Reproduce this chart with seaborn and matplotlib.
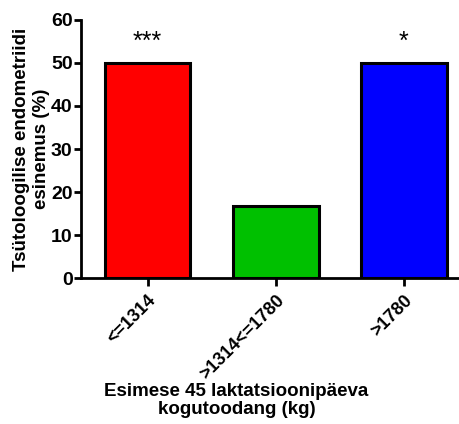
import matplotlib
matplotlib.use("Agg")
import matplotlib.pyplot as plt
import seaborn as sns
import pandas as pd

categories = ["<=1314", ">1314<=1780", ">1780"]
values = [50, 16.7, 50]
colors = ["#ff0000", "#00c000", "#0000ff"]
stars = ["***", "", "*"]
yticks = [0, 10, 20, 30, 40, 50, 60]

sns.set_style("white")
plt.rcParams['font.family'] = ['Liberation Sans', 'DejaVu Sans']
plt.rcParams['font.weight'] = 'bold'
plt.rcParams['text.color'] = 'black'
plt.rcParams['axes.labelcolor'] = 'black'
plt.rcParams['xtick.color'] = 'black'
plt.rcParams['ytick.color'] = 'black'

df = pd.DataFrame({"cat": categories, "val": values})

fig = plt.figure(figsize=(4.6, 4.24), dpi=100)
ax = fig.add_axes([0.176, 0.344, 0.824, 0.609])
sns.barplot(data=df, x="cat", y="val", hue="cat", palette=colors, legend=False,
            width=0.67, edgecolor="black", linewidth=2.2, saturation=1, ax=ax)

for i, s in enumerate(stars):
    if s:
        ax.text(i, values[i] + 2.0, s, ha="center", va="bottom", fontsize=18, fontweight="normal")

ax.set_xlim(-0.52, 2.44)
ax.set_ylim(0, 60)
ax.set_yticks(yticks)
ax.set_xticks(range(len(categories)))
ax.set_xticklabels(categories, rotation=45, ha="right", rotation_mode="anchor", fontsize=13, fontweight="bold")
ax.tick_params(axis="y", labelsize=14, width=2, length=5, left=True, pad=1)
ax.tick_params(axis="x", width=2, length=6, bottom=True, direction="out", pad=4)
for lab in ax.get_yticklabels():
    lab.set_fontweight("bold")
for side in ["top", "right"]:
    ax.spines[side].set_visible(False)
for side in ["left", "bottom"]:
    ax.spines[side].set_linewidth(2)
    ax.spines[side].set_color("black")

ax.set_ylabel("Tsütoloogilise endometriidi\nesinemus (%)", fontsize=13.5, fontweight="bold", labelpad=1)
ax.set_xlabel("Esimese 45 laktatsioonipäeva\nkogutoodang (kg)", fontsize=13.5, fontweight="bold", linespacing=1.1)
ax.xaxis.set_label_coords(0.41, -0.475)
ax.xaxis.label.set_va("center")

fig.savefig("out.png", dpi=100)
